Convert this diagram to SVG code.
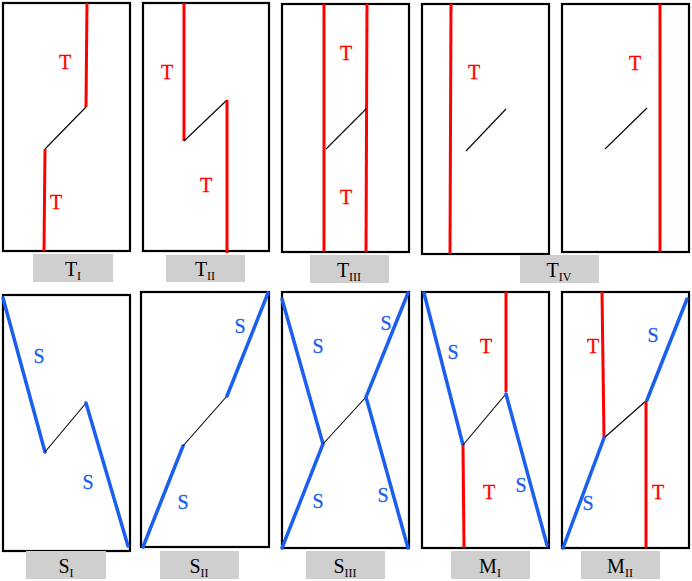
<svg xmlns="http://www.w3.org/2000/svg" width="692" height="581" viewBox="0 0 692 581">
<style>
.box{fill:#fff;stroke:#000;stroke-width:2.2}
.r{stroke:#ff0000;stroke-width:3;fill:none}
.b{stroke:#1a5ff0;stroke-width:3.5;fill:none;stroke-linecap:round}
.k{stroke:#000;stroke-width:1.1;fill:none}
.tt{fill:#ff0000;font-family:"Liberation Serif",serif;font-size:20px;text-anchor:middle;stroke:#ff0000;stroke-width:0.3}
.st{fill:#1a5ff0;font-family:"Liberation Serif",serif;font-size:20px;text-anchor:middle;stroke:#1a5ff0;stroke-width:0.3}
.lb{fill:#cfcfcf}
.lt{fill:#000;font-family:"Liberation Serif",serif;font-size:20px;text-anchor:middle}
.sub{font-size:12px}
</style>
<rect width="692" height="581" fill="#fff"/>
<!-- Top row -->
<g id="TI">
<rect class="box" x="3" y="3" width="127" height="248"/>
<path class="r" d="M87 3 L86 107"/><path class="k" d="M86 107 L45 149"/><path class="r" d="M45 149 L44 251"/>
<text class="tt" x="65" y="69">T</text><text class="tt" x="56" y="209">T</text>
<rect class="lb" x="33" y="254" width="80" height="28"/>
<text class="lt" x="73" y="276">T<tspan class="sub" dy="3.5">I</tspan></text>
</g>
<g id="TII">
<rect class="box" x="143" y="3" width="126" height="248"/>
<path class="r" d="M184 3 L184 141"/><path class="k" d="M184 141 L227 100"/><path class="r" d="M227 100 L227 253"/>
<text class="tt" x="167" y="79">T</text><text class="tt" x="206" y="192">T</text>
<rect class="lb" x="166" y="255" width="79" height="27"/>
<text class="lt" x="205" y="276">T<tspan class="sub" dy="3.5">II</tspan></text>
</g>
<g id="TIII">
<rect class="box" x="282" y="4" width="127" height="248"/>
<path class="r" d="M324 4 L324 252"/><path class="r" d="M367 4 L366 252"/><path class="k" d="M326 149 L366 109"/>
<text class="tt" x="346" y="60">T</text><text class="tt" x="346" y="204">T</text>
<rect class="lb" x="310" y="255" width="79" height="28"/>
<text class="lt" x="349" y="277">T<tspan class="sub" dy="3.5">III</tspan></text>
</g>
<g id="TIVa">
<rect class="box" x="422" y="4" width="127" height="250"/>
<path class="r" d="M451 4 L450 254"/><path class="k" d="M466 151 L506 109"/>
<text class="tt" x="474" y="79">T</text>
</g>
<g id="TIVb">
<rect class="box" x="562" y="4" width="127" height="248"/>
<path class="r" d="M660 4 L660 252"/><path class="k" d="M605 149 L647 108"/>
<text class="tt" x="635" y="70">T</text>
</g>
<g id="TIVlabel">
<rect class="lb" x="520" y="255" width="79" height="28"/>
<text class="lt" x="559" y="277">T<tspan class="sub" dy="3.5">IV</tspan></text>
</g>
<!-- Bottom row -->
<g id="SI">
<rect class="box" x="3" y="295" width="127" height="256"/>
<path class="b" d="M3 298 L45 452"/><path class="k" d="M45 452 L86 403"/><path class="b" d="M86 403 L128 546"/>
<text class="st" x="39" y="363">S</text><text class="st" x="88" y="489">S</text>
<rect class="lb" x="26" y="551" width="80" height="28"/>
<text class="lt" x="66" y="573">S<tspan class="sub" dy="3.5">I</tspan></text>
</g>
<g id="SII">
<rect class="box" x="141" y="292" width="128" height="255"/>
<path class="b" d="M143 547 L183 446"/><path class="k" d="M183 446 L227 396"/><path class="b" d="M227 396 L268 293"/>
<text class="st" x="183" y="509">S</text><text class="st" x="240" y="333">S</text>
<rect class="lb" x="160" y="551" width="79" height="28"/>
<text class="lt" x="199" y="573">S<tspan class="sub" dy="3.5">II</tspan></text>
</g>
<g id="SIII">
<rect class="box" x="282" y="292" width="127" height="256"/>
<path class="b" d="M282 299 L323 444 L282 548"/><path class="k" d="M323 444 L366 397"/><path class="b" d="M408 293 L366 397 L408 548"/>
<text class="st" x="318" y="353">S</text><text class="st" x="386" y="330">S</text>
<text class="st" x="318" y="508">S</text><text class="st" x="383" y="502">S</text>
<rect class="lb" x="306" y="551" width="79" height="28"/>
<text class="lt" x="345" y="573">S<tspan class="sub" dy="3.5">III</tspan></text>
</g>
<g id="MI">
<rect class="box" x="422" y="292" width="127" height="256"/>
<path class="b" d="M424 293 L463 445"/><path class="k" d="M463 445 L505 395"/>
<path class="r" d="M506 292 L506 392"/><path class="b" d="M506 394 L547 545"/><path class="r" d="M463 446 L464 548"/>
<text class="st" x="453" y="359">S</text><text class="tt" x="486" y="353">T</text>
<text class="tt" x="489" y="499">T</text><text class="st" x="521" y="492">S</text>
<rect class="lb" x="451" y="551" width="79" height="28"/>
<text class="lt" x="490" y="573">M<tspan class="sub" dy="3.5">I</tspan></text>
</g>
<g id="MII">
<rect class="box" x="562" y="292" width="127" height="256"/>
<path class="r" d="M602 292 L604 438"/><path class="k" d="M604 438 L647 400"/>
<path class="b" d="M647 400 L687 299"/><path class="b" d="M604 438 L563 548"/><path class="r" d="M646 401 L646 548"/>
<text class="tt" x="593" y="353">T</text><text class="st" x="653" y="342">S</text>
<text class="st" x="588" y="510">S</text><text class="tt" x="658" y="499">T</text>
<rect class="lb" x="581" y="551" width="79" height="28"/>
<text class="lt" x="620" y="573">M<tspan class="sub" dy="3.5">II</tspan></text>
</g>
</svg>
